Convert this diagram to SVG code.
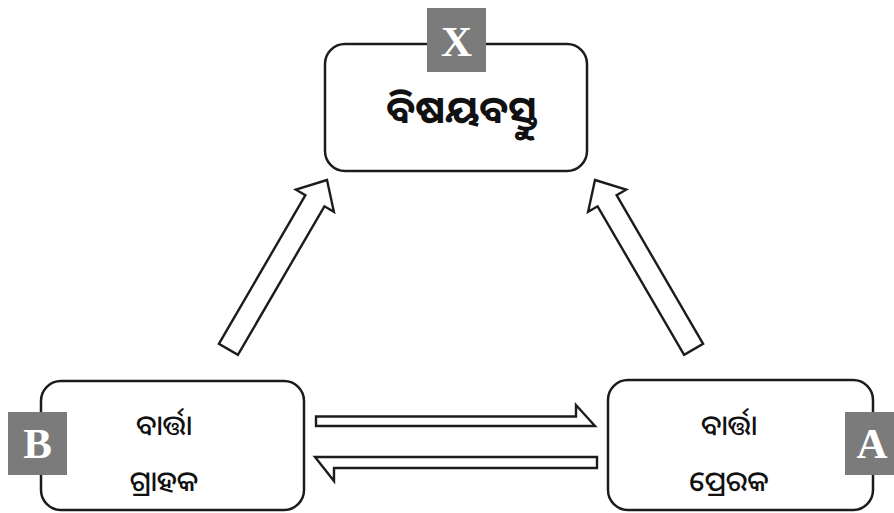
<svg xmlns="http://www.w3.org/2000/svg" width="894" height="513" viewBox="0 0 894 513">
<style>
.box{fill:#fff;stroke:#1c1c1c;stroke-width:2.5}
.tag{fill:#7b7b7b}
.tagt{fill:#fff;font-family:"Liberation Serif",serif;font-weight:bold;font-size:43px;text-anchor:middle}
.od{fill:#111;font-family:"Noto Sans Oriya","Noto Sans Odia","Lohit Odia","Kalinga",sans-serif;text-anchor:middle}
.arr{fill:#fff;stroke:#1c1c1c;stroke-width:2.4;stroke-linejoin:miter}
</style>
<rect width="894" height="513" fill="#fff"/>
<g id="connectors">
<polygon class="arr" points="327,180 295.9,189.7 305.4,195.2 218.9,343.8 237.9,354.9 324.4,206.3 333.9,211.8"/>
<polygon class="arr" points="595,180 626.1,189.7 616.6,195.2 703.1,343.8 684.1,354.9 597.6,206.3 588.1,211.8"/>
<polygon class="arr" points="316,416.5 576,416.5 576,405 595,426 316,426"/>
<polygon class="arr" points="315,457 597,457 597,468 334,468 334,481"/>
</g>
<g id="node-x">
<rect class="box" x="325" y="44" width="262" height="127" rx="20"/>
<rect class="tag" x="427" y="8" width="59" height="64"/>
<text class="tagt" x="456.5" y="56">X</text>
<text class="od" x="462" y="123" font-size="38" font-weight="bold">ବିଷୟବସ୍ତୁ</text>
</g>
<g id="node-b">
<rect class="box" x="41" y="381" width="263" height="129" rx="20"/>
<rect class="tag" x="8" y="412" width="59" height="63"/>
<text class="tagt" x="37.5" y="458">B</text>
<text class="od" x="164" y="435" font-size="28" font-weight="500">ବାର୍ତ୍ତା</text>
<text class="od" x="164" y="491" font-size="28" font-weight="500">ଗ୍ରାହକ</text>
</g>
<g id="node-a">
<rect class="box" x="608" y="380" width="265" height="130" rx="20"/>
<rect class="tag" x="845" y="412" width="59" height="63"/>
<text class="tagt" x="872" y="458">A</text>
<text class="od" x="729" y="435" font-size="28" font-weight="500">ବାର୍ତ୍ତା</text>
<text class="od" x="729" y="491" font-size="28" font-weight="500">ପ୍ରେରକ</text>
</g>
</svg>
